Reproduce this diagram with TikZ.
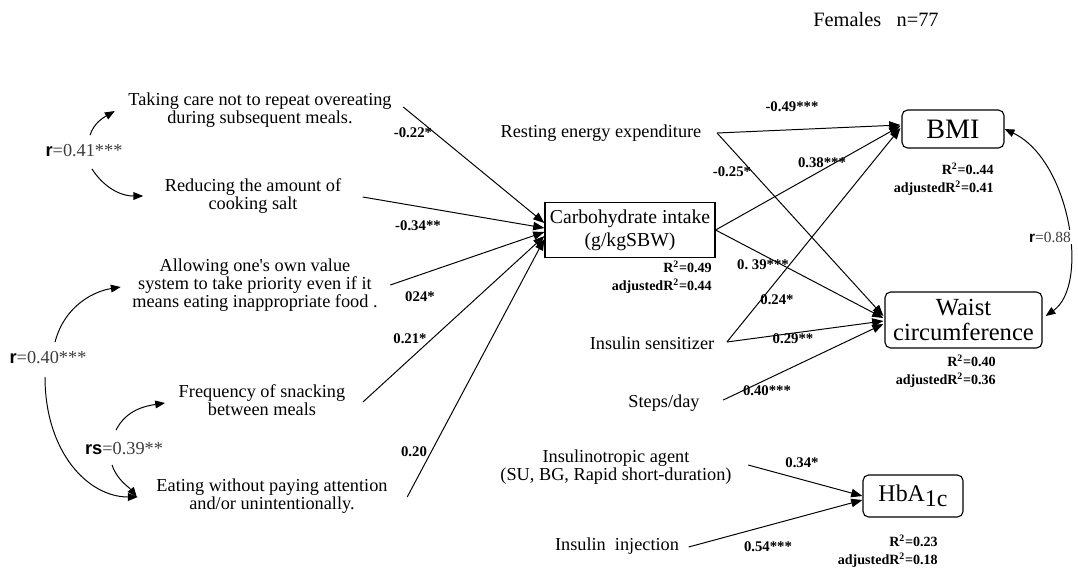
\documentclass[tikz,border=0pt]{standalone}
\usepackage{fontspec}
\setmainfont{Liberation Serif}
\setsansfont{Liberation Sans}
\usetikzlibrary{arrows.meta,positioning,calc}
\definecolor{CorrGray}{HTML}{3C3C3C}
\tikzset{
  factor/.style={align=center, inner sep=1pt, font=\fontsize{13}{11}\selectfont},
  coef/.style={inner sep=1pt, font=\fontsize{10.5}{12}\selectfont\bfseries},
  rsq/.style={align=right, inner sep=0pt, font=\fontsize{10}{12.3}\selectfont\bfseries},
  corrlbl/.style={inner sep=1pt, text=CorrGray, font=\fontsize{13}{15}\selectfont},
  carbbox/.style={draw, line width=0.8pt, align=center, minimum width=4.25cm, minimum height=1.375cm, font=\fontsize{14}{16.5}\selectfont},
  outbox/.style={draw, line width=0.8pt, rounded corners=4pt, align=center},
  arrow/.style={-{Triangle[length=8pt,width=6pt]}, line width=0.7pt},
  corrarrow/.style={-{Triangle[length=7pt,width=5.5pt]}, line width=0.7pt}
}
\newcommand{\rsym}[1]{\textcolor{black}{\textsf{\bfseries #1}}}

\begin{document}
\begin{tikzpicture}[x=0.025cm, y=-0.025cm]
    \useasboundingbox (0,0) rectangle (1078,568);
    \node[font=\fontsize{14.5}{16}\selectfont] (ttl) at (876,20) {Females\ \ \ n=77};

    % eating behaviours
    \node[factor] (take) at (260,110) {Taking care not to repeat overeating\\during subsequent meals.};
    \node[factor] (reduce) at (253,196) {Reducing the amount of\\cooking salt};
    \node[factor] (allow) at (255,285) {Allowing one\textquotesingle s own value\\system to take priority even if it\\means eating inappropriate food .};
    \node[factor] (snack) at (262,400) {Frequency of snacking\\between meals};
    \node[factor] (eat) at (272,496) {Eating without paying attention\\and/or unintentionally.};

    \node[corrlbl] (r41) at (84,151) {\rsym{r}=0.41***};
    \node[corrlbl] (r40) at (48,358) {\rsym{r}=0.40***};
    \node[corrlbl] (rs39) at (124,449) {\rsym{rs}=0.39**};

    % mediator and outcomes
    \node[carbbox] (carb) at (630,230) {Carbohydrate intake\\(g/kgSBW)};
    \node[rsq, anchor=north east] (carbr) at (712,261) {R\textsuperscript{2}=0.49\\adjustedR\textsuperscript{2}=0.44};

    \node[outbox, minimum width=2.55cm, minimum height=0.95cm, font=\fontsize{20}{22}\selectfont] (bmi) at (953,129) {BMI};
    \node[rsq, anchor=north east] (bmir) at (994,163) {R\textsuperscript{2}=0..44\\adjustedR\textsuperscript{2}=0.41};
    \node[outbox, minimum width=3.925cm, minimum height=1.4cm, font=\fontsize{17.5}{18}\selectfont] (waist) at (963.5,320) {Waist\\circumference};
    \node[rsq, anchor=north east] (waistr) at (996,355) {R\textsuperscript{2}=0.40\\adjustedR\textsuperscript{2}=0.36};
    \node[outbox, minimum width=2.5cm, minimum height=1.05cm, font=\fontsize{17}{19}\selectfont] (hba) at (913,496) {HbA\raisebox{-0.45ex}{1c}};
    \node[rsq, anchor=north east] (hbar) at (938,535) {R\textsuperscript{2}=0.23\\adjustedR\textsuperscript{2}=0.18};

    % other predictors
    \node[factor] (rest) at (601,133) {Resting energy expenditure};
    \node[factor] (sens) at (652,343) {Insulin sensitizer};
    \node[factor] (steps) at (664,403) {Steps/day};
    \node[factor] (agent) at (616,467) {Insulinotropic agent\\(SU, BG, Rapid short-duration)};
    \node[factor] (inj) at (617,546) {Insulin\ \ injection};

    % paths into carbohydrate intake
    \draw[arrow] ($(take.east)+(10,-3)$) -- ($(carb.west)+(0,-7)$);
    \draw[arrow] ($(reduce.east)+(20,1)$) -- ($(carb.west)+(0,-2)$);
    \draw[arrow] ($(allow.east)+(11,0)$) -- ($(carb.west)+(0,2)$);
    \draw[arrow] ($(snack.east)+(16,2)$) -- ($(carb.west)+(0,6)$);
    \draw[arrow] ($(eat.east)+(18,1)$) -- ($(carb.west)+(0,9)$);
    \node[coef] (c1) at (413,133) {-0.22*};
    \node[coef] (c2) at (418,226) {-0.34**};
    \node[coef] (c3) at (420,297) {024*};
    \node[coef] (c4) at (410,339) {0.21*};
    \node[coef] (c5) at (414,452) {0.20};

    % paths into BMI and waist
    \draw[arrow] ($(rest.east)+(14,0)$) -- ($(bmi.west)+(-1,-4)$);
    \draw[arrow] ($(rest.east)+(14,0)$) -- ($(waist.west)+(-1,-4)$);
    \draw[arrow] (carb.east) -- ($(bmi.west)+(-1,-3)$);
    \draw[arrow] (carb.east) -- ($(waist.west)+(-1,-2)$);
    \draw[arrow] ($(sens.east)+(11,-1)$) -- ($(bmi.west)+(-1,-1)$);
    \draw[arrow] ($(sens.east)+(11,-1)$) -- ($(waist.west)+(-1,1)$);
    \draw[arrow] ($(steps.east)+(22,-3)$) -- ($(waist.west)+(-1,4)$);
    \node[coef] (c6) at (792,107) {-0.49***};
    \node[coef] (c7) at (732,172) {-0.25*};
    \node[coef] (c8) at (822,163) {0.38***};
    \node[coef] (c9) at (763,265) {0.\ 39***};
    \node[coef] (c10) at (777,300) {0.24*};
    \node[coef] (c11) at (793,339) {0.29**};
    \node[coef] (c12) at (767,391) {0.40***};

    % paths into HbA1c
    \draw[arrow] ($(agent.east)+(15,-2)$) -- (hba.west);
    \draw[arrow] ($(inj.east)+(8,1)$) -- ($(hba.west)+(0,4)$);
    \node[coef] (c13) at (802,463) {0.34*};
    \node[coef] (c14) at (768,547) {0.54***};

    % correlations
    \draw[corrarrow] ($(r41.north)+(6,-8)$) .. controls +(4,-12) and +(-12,7) .. ($(take.west)+(-12,1)$);
    \draw[corrarrow] ($(r41.south)+(8,10)$) .. controls +(10,16) and +(-25,0) .. ($(reduce.west)+(-20,0)$);
    \draw[corrarrow] ($(r40.north)+(7,-8)$) .. controls +(10,-38) and +(-25,4) .. ($(allow.west)+(-10,2)$);
    \draw[corrarrow] ($(r40.south)+(-3,11)$) .. controls +(0,75) and +(-50,0) .. ($(eat.west)+(-17,1)$);
    \draw[corrarrow] ($(rs39.north)+(-8,-11)$) .. controls +(10,-20) and +(-20,3) .. ($(snack.west)+(-12,3)$);
    \draw[corrarrow] ($(rs39.south)+(-12,8)$) .. controls +(5,15) and +(-8,-10) .. ($(eat.west)+(-18,1)$);
    \draw[corrarrow, {Triangle[length=7pt,width=5.5pt]}-{Triangle[length=7pt,width=5.5pt]}] (bmi.east) .. controls (1070,160) and (1090,285) .. ($(waist.east)+(3,-4)$);
    \node[corrlbl, fill=white, font=\fontsize{11}{13}\selectfont] (r88) at (1050,237) {\rsym{r}=0.88};
\end{tikzpicture}
\end{document}
